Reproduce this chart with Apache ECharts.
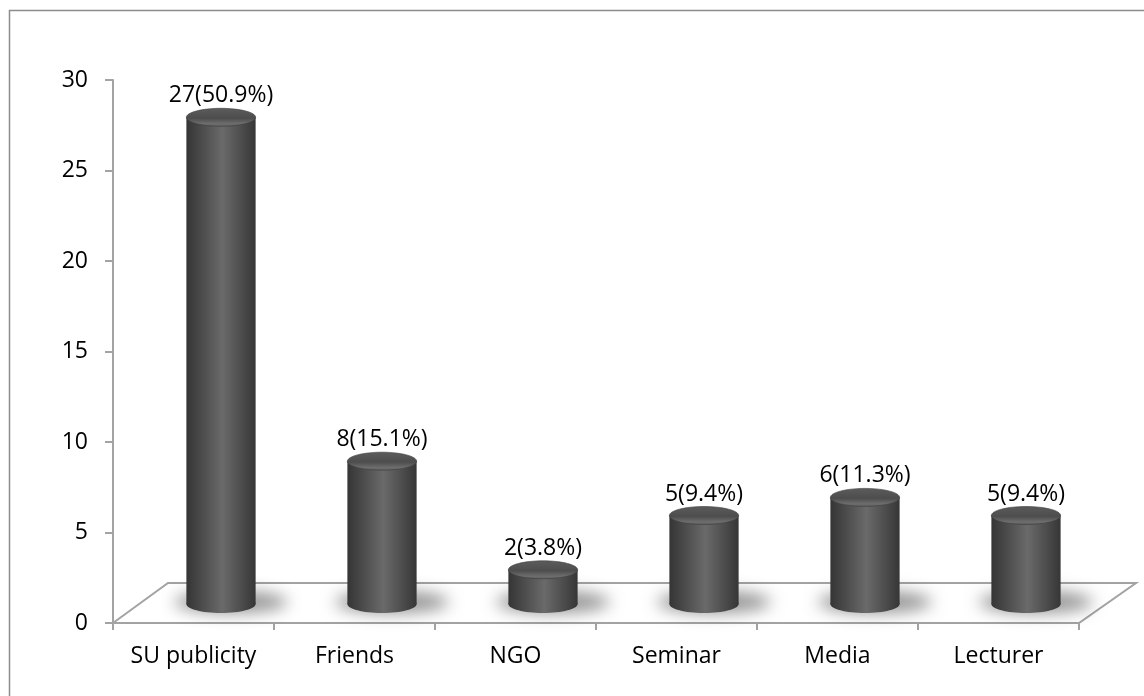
<!DOCTYPE html>
<html>
<head>
<meta charset="utf-8">
<script src="https://cdn.jsdelivr.net/npm/echarts@6/dist/echarts.min.js"></script>
<style>
html,body{margin:0;padding:0;background:#fff;}
#chart{width:1144px;height:696px;}
</style>
</head>
<body>
<div id="chart"></div>
<script>
const categories = ['SU publicity', 'Friends', 'NGO', 'Seminar', 'Media', 'Lecturer'];
const counts = [27, 8, 2, 5, 6, 5];
const percents = ['50.9%', '15.1%', '3.8%', '9.4%', '11.3%', '9.4%'];
const yTicks = { min: 0, max: 30, interval: 5 };

const FONT = '"Open Sans", Lato, sans-serif';
const DEPTH_X = 55, DEPTH_Y = 40;   // floor depth (3D look)
const FAR = 3000;                    // shadow-only trick offset

const chart = echarts.init(document.getElementById('chart'), null, { renderer: 'canvas' });

const bodyGradient = new echarts.graphic.LinearGradient(0, 0, 1, 0, [
  { offset: 0, color: '#353535' },
  { offset: 0.18, color: '#474747' },
  { offset: 0.52, color: '#6a6a6a' },
  { offset: 0.8, color: '#4c4c4c' },
  { offset: 1, color: '#363636' }
]);

function renderFloor(params, api) {
  const cs = params.coordSys;
  const x0 = cs.x, y0 = cs.y + cs.height, x1 = cs.x + cs.width;
  return {
    type: 'polygon',
    silent: true,
    shape: { points: [[x0, y0], [x0 + DEPTH_X, y0 - DEPTH_Y], [x1 + DEPTH_X + 2, y0 - DEPTH_Y], [x1, y0]] },
    style: { fill: '#ffffff', stroke: '#a3a3a3', lineWidth: 2 },
    z2: 0
  };
}

function renderCylinder(params, api) {
  const idx = api.value(0);
  const val = api.value(1);
  const top = api.coord([idx, val]);
  const base = api.coord([idx, 0]);
  const band = api.size([1, 0])[0];
  const w = band * 0.43;
  const rx = w / 2, ry = 9;
  const cx = top[0] + DEPTH_X / 2;
  const topY = top[1] - 17;
  const baseY = base[1] - 19;
  const label = counts[idx] + '(' + percents[idx] + ')';
  return {
    type: 'group',
    children: [
      {
        type: 'ellipse',
        shape: { cx: cx + 10 + FAR, cy: baseY - 2, rx: rx + 22, ry: 11 },
        style: {
          fill: '#000',
          shadowColor: 'rgba(0,0,0,0.42)',
          shadowBlur: 16,
          shadowOffsetX: -FAR,
          shadowOffsetY: 0
        },
        silent: true
      },
      {
        type: 'ellipse',
        shape: { cx: cx, cy: baseY, rx: rx, ry: ry },
        style: { fill: bodyGradient }
      },
      {
        type: 'rect',
        shape: { x: cx - rx, y: topY, width: w, height: baseY - topY },
        style: { fill: bodyGradient }
      },
      {
        type: 'ellipse',
        shape: { cx: cx, cy: topY, rx: rx, ry: ry },
        style: {
          fill: new echarts.graphic.LinearGradient(0, 0, 0, 1, [
            { offset: 0, color: '#5c5c5c' },
            { offset: 0.55, color: '#4d4d4d' },
            { offset: 0.85, color: '#6e6e6e' },
            { offset: 1, color: '#5a5a5a' }
          ]),
          stroke: '#3e3e3e',
          lineWidth: 0.6
        }
      },
      {
        type: 'text',
        style: {
          text: label,
          x: cx,
          y: topY - ry - 1,
          align: 'center',
          verticalAlign: 'bottom',
          fill: '#000',
          font: '23px ' + FONT
        }
      }
    ]
  };
}

const option = {
  backgroundColor: '#ffffff',
  animation: false,
  graphic: [{
    type: 'rect',
    shape: { x: 9.5, y: 10.5, width: 1160, height: 700 },
    style: { fill: 'none', stroke: '#8c8c8c', lineWidth: 1.5 },
    silent: true,
    z: -10
  }],
  grid: { left: 113, top: 80, right: 65, bottom: 73, containLabel: false },
  xAxis: {
    type: 'category',
    data: categories,
    boundaryGap: true,
    axisLine: { show: true, lineStyle: { color: '#a3a3a3', width: 2 } },
    axisTick: { show: true, length: 7, interval: 0, alignWithLabel: false, lineStyle: { color: '#a3a3a3', width: 2 } },
    axisLabel: { color: '#000', fontSize: 23, fontFamily: FONT, margin: 22, interval: 0 },
    z: 3
  },
  yAxis: {
    type: 'value',
    min: yTicks.min, max: yTicks.max, interval: yTicks.interval,
    axisLine: { show: true, lineStyle: { color: '#a3a3a3', width: 2 } },
    axisTick: { show: true, length: 8, lineStyle: { color: '#a3a3a3', width: 2 } },
    splitLine: { show: false },
    axisLabel: { color: '#000', fontSize: 23, fontFamily: FONT, margin: 25 },
    z: 3
  },
  series: [
    {
      type: 'custom',
      name: 'floor',
      renderItem: renderFloor,
      data: [[0, 0]],
      z: 1,
      silent: true
    },
    {
      type: 'custom',
      name: 'count',
      renderItem: renderCylinder,
      encode: { x: 0, y: 1 },
      data: counts.map((v, i) => [i, v]),
      z: 5,
      clip: false
    }
  ]
};
chart.setOption(option);
</script>
</body>
</html>
